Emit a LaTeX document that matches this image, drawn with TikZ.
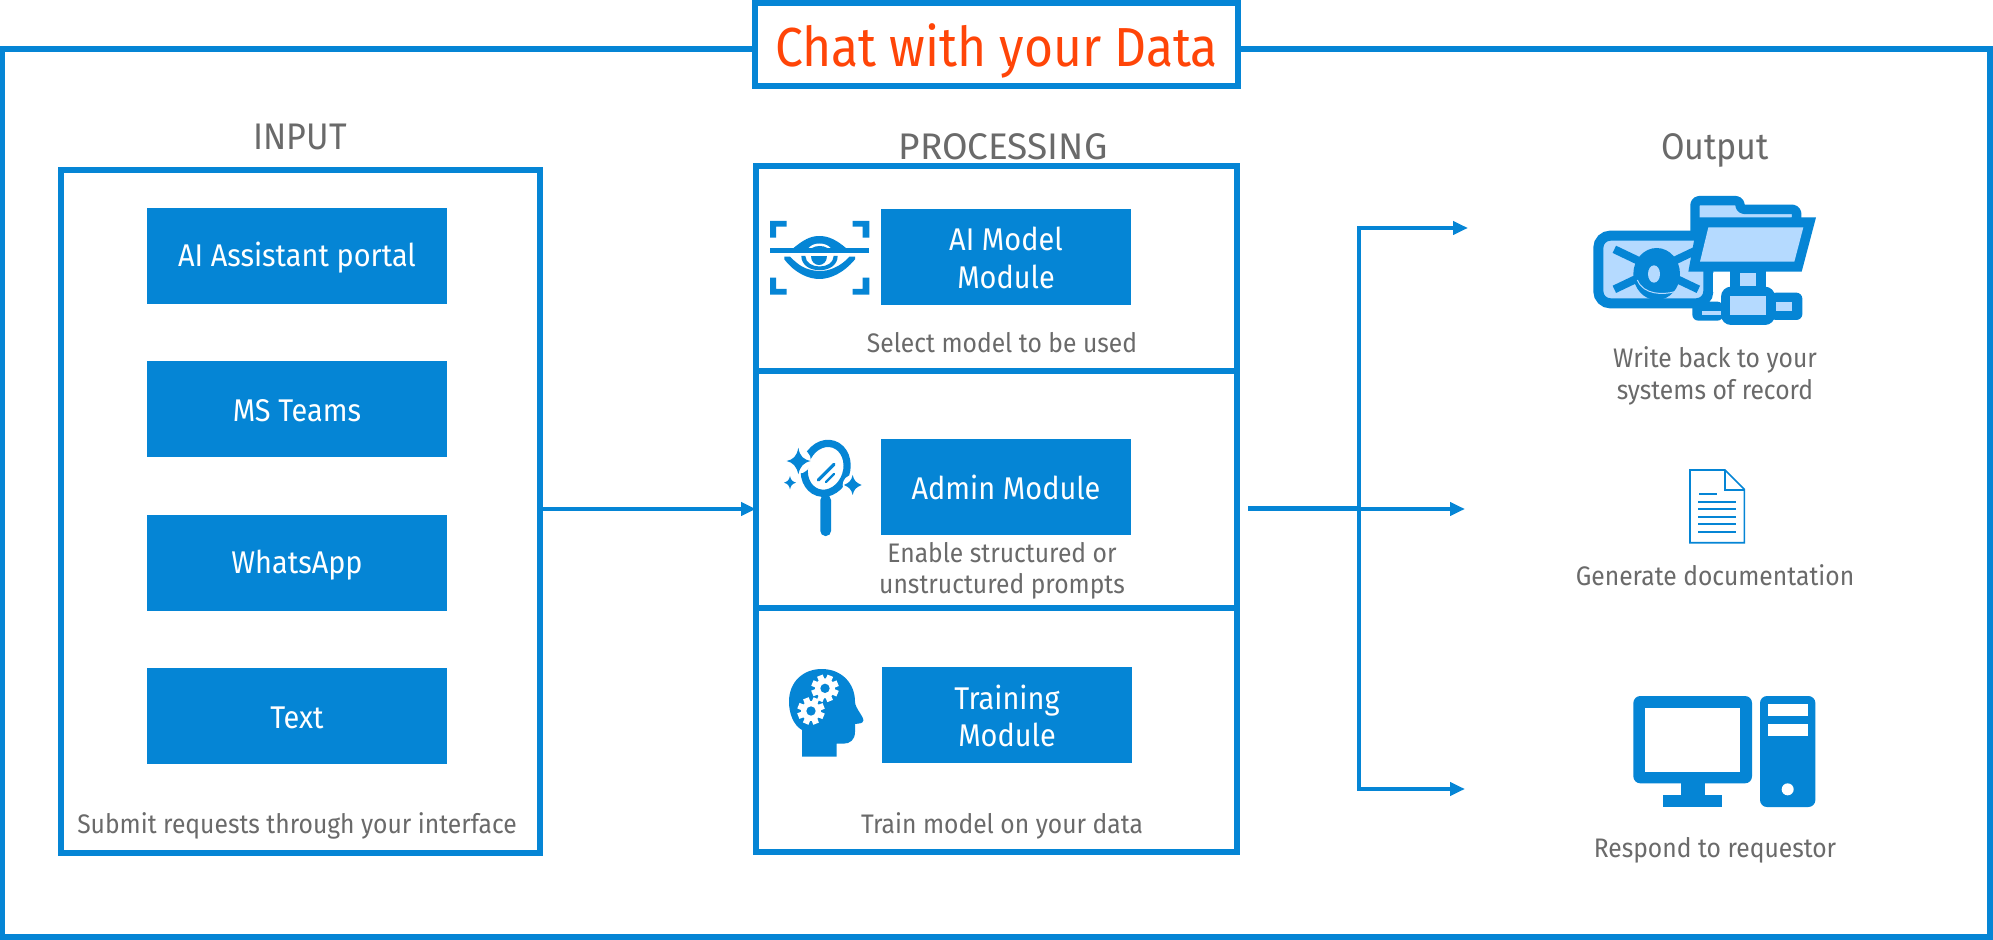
\documentclass[tikz,border=0pt]{standalone}
\usepackage{fontspec}
\setmainfont{Fira Sans}[FakeStretch=0.92]
\newfontfamily\titlefont{Fira Sans}[FakeStretch=0.905]
\newfontfamily\headwide{Fira Sans}
\newcommand\dn[1]{\raisebox{-1pt}[\height][\depth]{#1}}
\newcommand\dnsmall[1]{\raisebox{-0.5pt}[\height][\depth]{#1}}
\newcommand\dntitle[1]{\raisebox{-3.2pt}[\height][\depth]{#1}}
\usetikzlibrary{arrows.meta}
\definecolor{mblue}{HTML}{0585D5}
\definecolor{mlight}{HTML}{B5DAFF}
\definecolor{mgray}{HTML}{6A6A6A}
\definecolor{morange}{HTML}{FF4508}
\tikzset{
 framebox/.style={draw=mblue,line width=3pt,fill=white,inner sep=0pt,outer sep=0pt},
 bluebox/.style={fill=mblue,text=white,minimum width=150pt,minimum height=48pt,inner sep=0pt,outer sep=0pt,align=center,font=\fontsize{15.7}{18.9}\selectfont},
 modulebox/.style={bluebox,minimum width=125pt},
 heading/.style={text=mgray,inner sep=0pt,font=\fontsize{18.5}{22}\selectfont},
 caption/.style={text=mgray,inner sep=0pt,align=center,font=\fontsize{13.4}{15.6}\selectfont},
 conn/.style={draw=mblue,line width=2pt},
 arrowconn/.style={conn,-{Triangle[length=7.5pt,width=6.5pt]}},
 icon/.style={fill=mblue,draw=none},
 iconw/.style={fill=white,draw=none},
 zoomcs/.style={x=0.16667pt,y=-0.16667pt},
}
\begin{document}
\begin{tikzpicture}[x=0.5pt,y=-0.5pt]
\useasboundingbox (0,0) rectangle (1993,940);
\fill[white] (0,0) rectangle (1993,940);
% outer frame
\node[framebox,minimum width=994pt,minimum height=444pt] (outer) at (996,493) {};
\node[framebox,minimum width=241.5pt,minimum height=41.5pt,text=morange,font=\titlefont\fontsize{27.5}{30}\selectfont] (title) at (996.5,44.5) {\dntitle{Chat with your Data}};
% headings
\node[heading] (hinput) at (300,137) {INPUT};
\node[heading,font=\headwide\fontsize{18.5}{22}\selectfont] (hproc) at (1003,147) {PROCESSING};
\node[heading] (hout) at (1715,150) {Output};
% input
\node[framebox,minimum width=239.5pt,minimum height=341pt] (inframe) at (300.5,511.5) {};
\node[bluebox] (b1) at (297,256) {\dn{AI Assistant portal}};
\node[bluebox] (b2) at (297,409) {\dn{MS Teams}};
\node[bluebox] (b3) at (297,563) {\dn{WhatsApp}};
\node[bluebox] (b4) at (297,716) {\dn{Text}};
\node[caption] (cin) at (297,825.5) {Submit requests through your interface};
% processing
\node[framebox,minimum width=240.5pt,minimum height=343pt] (procframe) at (996.5,509) {};
\coordinate (d1) at (996.5,371);
\coordinate (d2) at (996.5,608);
\draw[draw=mblue,line width=3pt] (procframe.west|-d1) -- (procframe.east|-d1);
\draw[draw=mblue,line width=3pt] (procframe.west|-d2) -- (procframe.east|-d2);
\node[modulebox] (m1) at (1006,257) {\dnsmall{AI Model}\\\dnsmall{Module}};
\node[modulebox] (m2) at (1006,487.5) {Admin Module};
\node[modulebox] (m3) at (1007,715) {\dnsmall{Training}\\\dnsmall{Module}};
\node[caption] (c1) at (1002,343) {Select model to be used};
\node[caption] (c2) at (1002,571) {Enable structured or\\unstructured prompts};
\node[caption] (c3) at (1002,826) {Train model on your data};
% output captions
\node[caption] (o1) at (1715,376) {Write back to your\\systems of record};
\node[caption] (o2) at (1715,575) {Generate documentation};
\node[caption] (o3) at (1715,850) {Respond to requestor};
% connectors
\draw[arrowconn] (inframe.east|-procframe.west) -- (procframe.west);
\coordinate (ostart) at (1248,509);
\coordinate (trunk) at (1359,509);
\coordinate (a1) at (1468,228);
\coordinate (a2) at (1465,509);
\coordinate (a3) at (1465,789);
\draw[conn,line width=2.5pt] (ostart) -- (trunk);
\draw[arrowconn] (trunk) -- (a2);
\draw[arrowconn] (trunk) |- (a1);
\draw[arrowconn] (trunk) |- (a3);
% eye icon
\begin{scope}[shift={(740,160)},zoomcs]
\fill[icon] (90,183)--(140,183)--(140,200)--(108,200)--(108,233)--(90,233)--cycle;
\fill[icon] (338,183)--(388,183)--(388,233)--(368,233)--(368,200)--(338,200)--cycle;
\fill[icon] (90,353)--(108,353)--(108,387)--(140,387)--(140,404)--(90,404)--cycle;
\fill[icon] (368,353)--(388,353)--(388,404)--(338,404)--(338,387)--(368,387)--cycle;
\fill[icon] (90,264) rectangle (388,279);
\fill[icon] (158,266) .. controls (190,240) and (210,228) .. (238,228) .. controls (266,228) and (290,240) .. (320,266) -- cycle;
\fill[iconw] (206,264) .. controls (220,246) and (256,246) .. (272,264) -- cycle;
\fill[icon] (216,264) .. controls (228,256) and (250,256) .. (262,264) -- cycle;
\fill[icon] (133,290) -- (150,290) .. controls (165,305) and (180,318) .. (195,324) .. controls (225,336) and (255,336) .. (282,324) .. controls (300,316) and (315,305) .. (328,290) -- (345,290) -- (345,298) .. controls (310,340) and (270,357) .. (238,357) .. controls (206,357) and (165,340) .. (133,298) -- cycle;
\fill[icon] (184,288) -- (196,288) .. controls (198,330) and (280,330) .. (281,288) -- (293,288) .. controls (293,345) and (184,345) .. (184,288) -- cycle;
\fill[icon] (212,288) -- (262,288) .. controls (262,325) and (212,325) .. (212,288) -- cycle;
\end{scope}
% mirror icon
\begin{scope}[shift={(740,410)},zoomcs]
\draw[mblue,line width=3.6pt,rotate around={-18:(257,175)}] (257,175) ellipse [x radius=63,y radius=76];
\fill[iconw] (175,153) circle [radius=38];
\fill[iconw] (338,225) circle [radius=30];
\fill[icon,rounded corners=2.5pt] (241,255) rectangle (273,378);
\fill[icon] (175,113) .. controls (180,140) and (190,148) .. (212,153) .. controls (190,158) and (180,170) .. (175,193) .. controls (170,170) and (160,158) .. (140,153) .. controls (160,148) and (170,140) .. (175,113) -- cycle;
\fill[icon] (150,198) .. controls (153,210) and (156,214) .. (168,218) .. controls (156,222) and (153,226) .. (150,238) .. controls (147,226) and (144,222) .. (132,218) .. controls (144,214) and (147,210) .. (150,198) -- cycle;
\fill[icon] (338,195) .. controls (342,212) and (348,218) .. (365,225) .. controls (348,232) and (342,238) .. (338,255) .. controls (334,238) and (328,232) .. (312,225) .. controls (328,218) and (334,212) .. (338,195) -- cycle;
\draw[mblue,line width=1.6pt,line cap=round] (235,210) -- (282,163);
\draw[mblue,line width=1.1pt,line cap=round] (258,216) -- (282,192);
\end{scope}
% head icon
\begin{scope}[shift={(740,410)},zoomcs]
\fill[icon] (186,1040) -- (186,960) .. controls (160,945) and (147,910) .. (147,875) .. controls (147,815) and (190,777) .. (245,777) .. controls (305,777) and (345,820) .. (345,875) .. controls (345,895) and (372,920) .. (370,932) .. controls (368,942) and (355,940) .. (345,942) -- (345,965) .. controls (345,990) and (330,1001) .. (310,1001) -- (290,1001) -- (290,1040) -- cycle;
\foreach \c/\d in {255/835,213/903}{
 \fill[iconw] (\c,\d) circle [radius=30];
 \foreach \a in {0,45,...,315}{
  \fill[iconw,shift={(\c,\d)},rotate=\a+22] (-9,-41) rectangle (9,0);
 }
 \fill[icon] (\c,\d) circle [radius=14];
}
\end{scope}
% folder/eye icon
\begin{scope}[shift={(1560,180)},zoomcs]
\draw[mblue,fill=mlight,line width=4.7pt,line join=round,rounded corners=2pt] (405,180) -- (405,62) -- (540,62) -- (540,88) -- (710,88) -- (710,125) -- cycle;
\draw[mblue,fill=mlight,line width=5pt,rounded corners=6pt] (115,167) rectangle (445,370);
\draw[mblue,line width=4pt] (163,208) -- (415,328);
\draw[mblue,line width=4pt] (163,328) -- (415,208);
\fill[icon] (290,282) ellipse [x radius=70,y radius=78];
\fill[mlight] (282,282) ellipse [x radius=18,y radius=26];
\draw[mlight,line width=0.5pt] (232,300) .. controls (250,345) and (310,345) .. (345,335);
\fill[icon] (415,112) -- (768,112) -- (725,275) -- (385,275) -- cycle;
\fill[mlight] (445,142) -- (730,142) -- (703,245) -- (420,245) -- cycle;
\fill[icon] (510,270) rectangle (617,330);
\fill[mlight] (540,278) rectangle (588,318);
\fill[white] (460,280) rectangle (484,335);
\fill[icon,rounded corners=3pt] (397,365) rectangle (490,422);
\fill[mlight] (425,392) rectangle (483,405);
\fill[icon,rounded corners=3pt] (630,338) rectangle (727,420);
\fill[mlight] (648,367) rectangle (697,393);
\fill[icon,rounded corners=5pt] (483,320) rectangle (645,435);
\fill[mlight] (510,348) rectangle (618,405);
\end{scope}
% document icon
\begin{scope}[shift={(1600,450)},zoomcs]
\draw[mblue,line width=0.85pt,fill=white,line join=miter] (270,60) -- (375,60) -- (433,118) -- (433,278) -- (270,278) -- cycle;
\draw[mblue,line width=0.85pt] (375,60) -- (375,120) -- (433,120);
\draw[mblue,line width=0.85pt] (297,131) -- (351,131);
\foreach \yy in {156,178,200,222,245}{\draw[mblue,line width=0.85pt] (294,\yy) -- (408,\yy);}
\end{scope}
% computer icon
\begin{scope}[shift={(1600,450)},zoomcs]
\fill[icon,rounded corners=3.5pt] (100,738) rectangle (456,1000);
\fill[iconw] (135,773) rectangle (421,965);
\fill[icon] (243,1000) rectangle (314,1036);
\fill[icon] (189,1036) rectangle (367,1071);
\fill[icon,rounded corners=3.5pt] (480,738) rectangle (646,1071);
\fill[iconw] (503,762) rectangle (623,798);
\fill[iconw] (503,822) rectangle (623,858);
\fill[iconw] (563,1018) circle [radius=18];
\end{scope}
\end{tikzpicture}
\end{document}
